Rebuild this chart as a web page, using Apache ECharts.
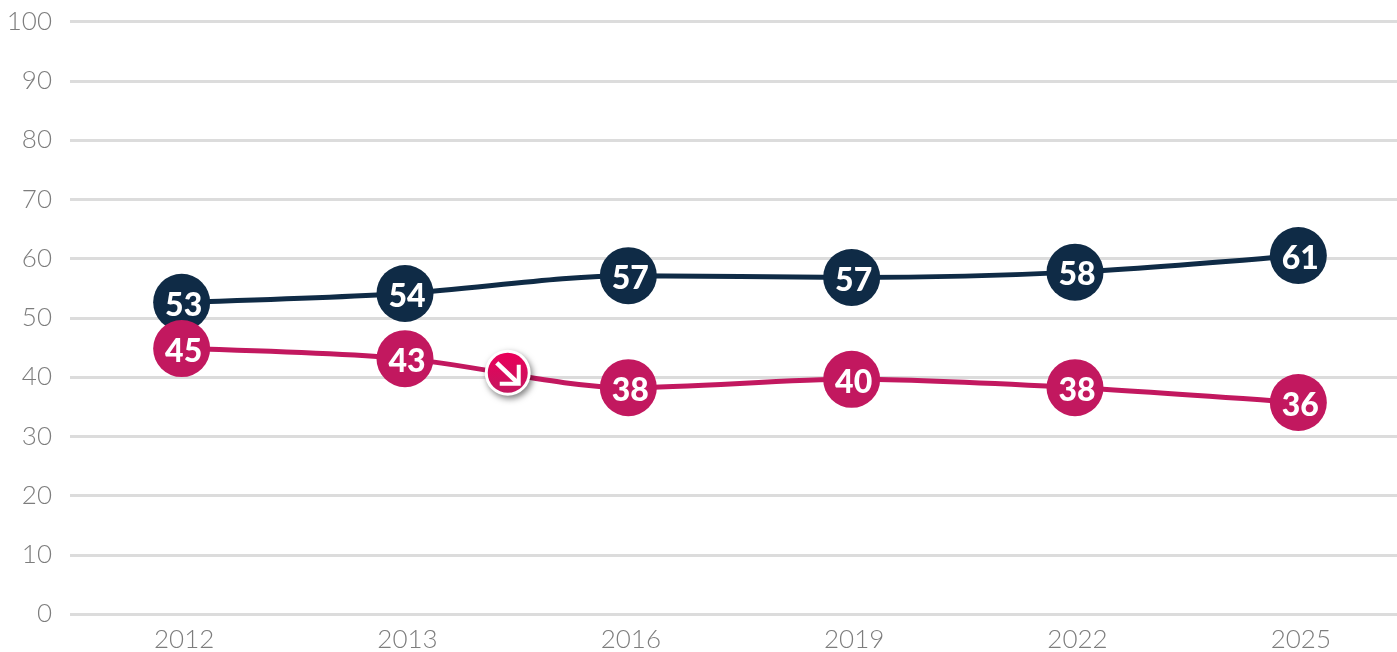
<!DOCTYPE html>
<html><head><meta charset="utf-8">
<style>html,body{margin:0;padding:0;background:#fff;overflow:hidden}#c{width:1397px;height:652px}</style>
<script src="https://cdn.jsdelivr.net/npm/echarts@6/dist/echarts.min.js"></script>
</head><body><div id="c"></div>
<script>
const categories = ['2012','2013','2016','2019','2022','2025'];
const navyValues = [52.6,54.1,57.1,56.8,57.7,60.5];
const navyLabels = ['53','54','57','57','58','61'];
const pinkValues = [44.8,43.1,38.2,39.6,38.2,35.7];
const pinkLabels = ['45','43','38','40','38','36'];
const arrowPoint = [1.46,40.7];
const yTicks = {min:0,max:100,interval:10};
const NAVY='#0f2b46', PINK='#c2185f';
const chart = echarts.init(document.getElementById('c'),null,{renderer:'canvas'});
function lineSeries(name,vals,labels,color,z){
  return {name,type:'line',data:vals,smooth:0.3,symbol:'circle',symbolSize:57,z,
    lineStyle:{color,width:5},itemStyle:{color},
    label:{show:true,position:'inside',offset:[2,3],color:'#fff',fontFamily:'Lato',fontWeight:900,fontSize:32,
      formatter:p=>labels[p.dataIndex]},
    emphasis:{disabled:true},animation:false};
}
chart.setOption({
  animation:false,
  grid:{left:70,top:21.5,width:1340,height:592.5,containLabel:false,outerBoundsMode:'none'},
  xAxis:[{type:'category',data:categories,axisLine:{show:false},axisTick:{show:false},
    axisLabel:{color:'#7d7d7d',fontFamily:'Lato',fontWeight:300,fontSize:26,margin:13,padding:[0,0,0,5]}},
    {type:'value',min:-0.5,max:5.5,show:false}],
  yAxis:{type:'value',min:yTicks.min,max:yTicks.max,interval:yTicks.interval,axisLine:{show:false},axisTick:{show:false},
    splitLine:{lineStyle:{color:'#dcdcdc',width:3}},
    axisLabel:{color:'#7d7d7d',fontFamily:'Lato',fontWeight:300,fontSize:26,margin:18}},
  series:[
    lineSeries('navy',navyValues,navyLabels,NAVY,3),
    lineSeries('pink',pinkValues,pinkLabels,PINK,4),
    {type:'custom',xAxisIndex:1,z:6,data:[arrowPoint],silent:true,
     renderItem(params,api){
       const p=api.coord([api.value(0),api.value(1)]);
       const cx=p[0],cy=p[1];
       return {type:'group',children:[
         {type:'circle',shape:{cx,cy,r:23},style:{fill:'#fff',shadowBlur:6,shadowOffsetX:2,shadowOffsetY:3,shadowColor:'rgba(0,0,0,0.5)'}},
         {type:'circle',shape:{cx,cy,r:20},style:{fill:new echarts.graphic.LinearGradient(0,0,0,1,[{offset:0,color:'#ea005a'},{offset:1,color:'#c4165f'}])}},
         {type:'polyline',shape:{points:[[cx-11,cy-10],[cx+10,cy+10]]},style:{stroke:'#fff',lineWidth:4.5,fill:null}},
         {type:'polyline',shape:{points:[[cx+11,cy-8],[cx+11,cy+11],[cx-8,cy+11]]},style:{stroke:'#fff',lineWidth:4,fill:null}}
       ]};
     }}
  ]
});
</script></body></html>
